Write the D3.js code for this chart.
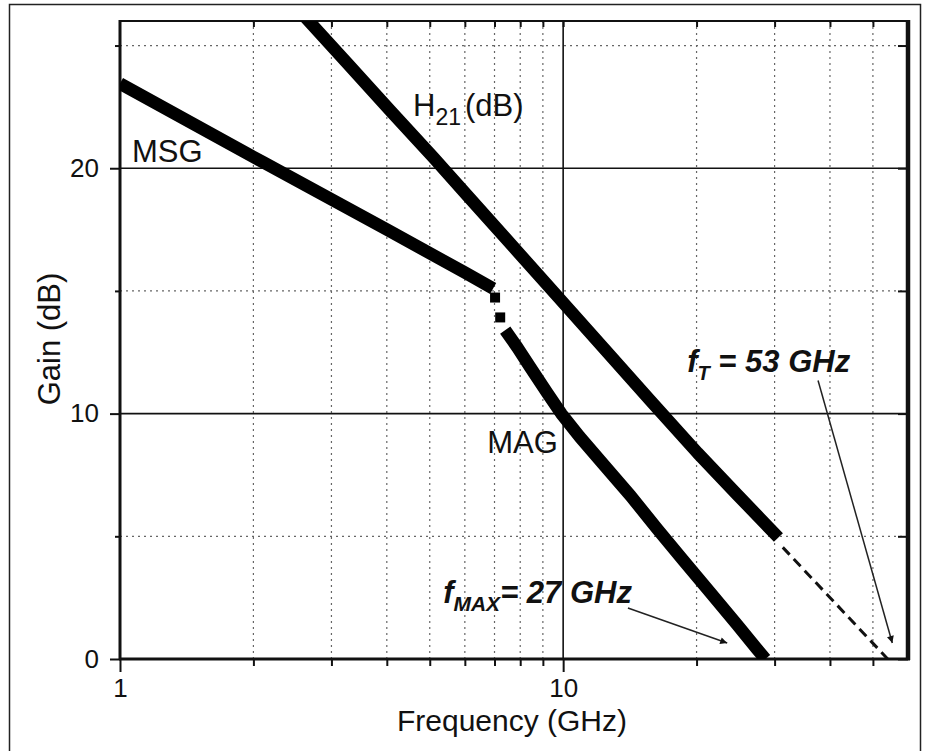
<!DOCTYPE html>
<html>
<head>
<meta charset="utf-8">
<script src="https://cdn.jsdelivr.net/npm/d3@7"></script>
<style>
  body { margin: 0; background: #fff; }
  text { font-family: "Liberation Sans", Arial, sans-serif; fill: #111; }
</style>
</head>
<body>
<div id="chart"></div>
<script>
// Data (frequency in GHz, gain in dB)
//------------------------------------------------------
var h21Freq = [2.45, 2.62, 3.25, 4.07, 5.09, 6.07, 9.69, 12.3, 15.7, 20.1, 24.7, 30.6];
var h21Gain = [26.7, 26.15, 24.3, 22.35, 20.45, 18.9, 14.8, 12.7, 10.55, 8.4, 6.7, 4.95];

var msgFreq = [1, 2.1, 4.0, 6.0, 6.95];
var msgGain = [23.45, 20.25, 17.5, 15.75, 15.1];

var kinkFreq = [7.02, 7.21];
var kinkGain = [14.73, 13.92];

var magFreq = [7.40, 7.88, 8.42, 9.20, 9.9, 10.9, 12.3, 14.2, 16.3, 18.7, 21.5, 24.7, 27.4, 28.6];
var magGain = [13.4, 12.7, 11.9, 10.85, 10.0, 9.05, 7.95, 6.65, 5.3, 4.0, 2.7, 1.4, 0.4, 0];

// dashed extrapolation of H21 down to 0 dB
var extFreq = [31.3, 54];
var extGain = [4.55, 0];

var xMajorTicks = [1, 10];
var xMinorTicks = [2, 3, 4, 5, 6, 7, 8, 9, 20, 30, 40, 50];
var yMajorTicks = [0, 10, 20];
var yMinorTicks = [5, 15, 25];

//------------------------------------------------------
var W = 929, H = 751;
var pLeft = 120, pRight = 908, pTop = 21, pBottom = 659;

var svg = d3.select("#chart").append("svg")
    .attr("width", W).attr("height", H);

var x = d3.scaleLog().domain([1, 60]).range([pLeft, pRight]);
var y = d3.scaleLinear().domain([0, 26]).range([pBottom, pTop]);

function zip(a, b) {
    return a.map(function (v, i) { return [v, b[i]]; });
}

// outer frame of the figure
svg.append("rect")
    .attr("x", 9.5).attr("y", 4.5).attr("width", 911).attr("height", 752)
    .attr("fill", "none").attr("stroke", "#222").attr("stroke-width", 1.5);

var defs = svg.append("defs");
defs.append("clipPath").attr("id", "plotClip")
  .append("rect")
    .attr("x", pLeft).attr("y", pTop)
    .attr("width", pRight - pLeft).attr("height", pBottom - pTop);

defs.append("marker")
    .attr("id", "arrow")
    .attr("viewBox", "0 0 10 10")
    .attr("refX", 10).attr("refY", 5)
    .attr("markerWidth", 10).attr("markerHeight", 7)
    .attr("markerUnits", "userSpaceOnUse")
    .attr("orient", "auto")
  .append("path")
    .attr("d", "M0,0 L10,5 L0,10 Z")
    .attr("fill", "#111");

// grid
var grid = svg.append("g");
grid.selectAll(".vdot").data(xMinorTicks).enter().append("line")
    .attr("x1", function (d) { return x(d); }).attr("x2", function (d) { return x(d); })
    .attr("y1", pTop).attr("y2", pBottom)
    .attr("stroke", "#666").attr("stroke-width", 1.2).attr("stroke-dasharray", "2,4");
grid.selectAll(".hdot").data(yMinorTicks).enter().append("line")
    .attr("x1", pLeft).attr("x2", pRight)
    .attr("y1", function (d) { return y(d); }).attr("y2", function (d) { return y(d); })
    .attr("stroke", "#666").attr("stroke-width", 1.2).attr("stroke-dasharray", "2,4");
grid.selectAll(".vsol").data([10]).enter().append("line")
    .attr("x1", function (d) { return x(d); }).attr("x2", function (d) { return x(d); })
    .attr("y1", pTop).attr("y2", pBottom)
    .attr("stroke", "#111").attr("stroke-width", 1.6);
grid.selectAll(".hsol").data([10, 20]).enter().append("line")
    .attr("x1", pLeft).attr("x2", pRight)
    .attr("y1", function (d) { return y(d); }).attr("y2", function (d) { return y(d); })
    .attr("stroke", "#111").attr("stroke-width", 1.6);

// axes
function styleAxis(g) {
    g.select(".domain").remove();
    g.selectAll(".tick line").attr("stroke", "#111").attr("stroke-width", 2);
    g.selectAll(".tick text").attr("font-size", 26).attr("fill", "#111")
        .style("font-family", "'Liberation Sans', Arial, sans-serif");
}

svg.append("g").attr("transform", "translate(0," + pBottom + ")")
    .call(d3.axisBottom(x).tickValues(xMajorTicks).tickSize(13).tickPadding(7)
        .tickFormat(d3.format("d")))
    .call(styleAxis);
svg.append("g").attr("transform", "translate(0," + pBottom + ")")
    .call(d3.axisBottom(x).tickValues(xMinorTicks).tickSize(7).tickFormat(""))
    .call(styleAxis);
svg.append("g").attr("transform", "translate(0," + pTop + ")")
    .call(d3.axisTop(x).tickValues(xMinorTicks.concat([10])).tickSize(-6).tickFormat(""))
    .call(styleAxis);

svg.append("g").attr("transform", "translate(" + pLeft + ",0)")
    .call(d3.axisLeft(y).tickValues(yMajorTicks).tickSize(10).tickPadding(11)
        .tickFormat(d3.format("d")))
    .call(styleAxis);
svg.append("g").attr("transform", "translate(" + pLeft + ",0)")
    .call(d3.axisLeft(y).tickValues(yMinorTicks).tickSize(5).tickFormat(""))
    .call(styleAxis);
svg.append("g").attr("transform", "translate(" + pRight + ",0)")
    .call(d3.axisRight(y).tickValues(yMajorTicks.concat(yMinorTicks)).tickSize(-10).tickFormat(""))
    .call(styleAxis);

// plot frame: heavier left / bottom / right edges
svg.append("line").attr("x1", pLeft).attr("x2", pRight).attr("y1", pTop).attr("y2", pTop)
    .attr("stroke", "#111").attr("stroke-width", 2);
svg.append("line").attr("x1", pLeft - 1).attr("x2", pRight + 2).attr("y1", pBottom).attr("y2", pBottom)
    .attr("stroke", "#111").attr("stroke-width", 3);
svg.append("line").attr("x1", pLeft).attr("x2", pLeft).attr("y1", pTop - 1).attr("y2", pBottom + 1)
    .attr("stroke", "#111").attr("stroke-width", 3);
svg.append("line").attr("x1", pRight).attr("x2", pRight).attr("y1", pTop - 1).attr("y2", pBottom + 1)
    .attr("stroke", "#111").attr("stroke-width", 4.5);

// curves
var line = d3.line()
    .x(function (d) { return x(d[0]); })
    .y(function (d) { return y(d[1]); });

var curves = svg.append("g").attr("clip-path", "url(#plotClip)");

curves.append("path").datum(zip(extFreq, extGain))
    .attr("d", line).attr("fill", "none")
    .attr("stroke", "#111").attr("stroke-width", 3).attr("stroke-dasharray", "10,6");

[zip(h21Freq, h21Gain), zip(msgFreq, msgGain), zip(magFreq, magGain)].forEach(function (s) {
    curves.append("path").datum(s)
        .attr("d", line).attr("fill", "none")
        .attr("stroke", "#000").attr("stroke-width", 12.5)
        .attr("stroke-linejoin", "round");
});

curves.selectAll(".kink").data(zip(kinkFreq, kinkGain)).enter().append("rect")
    .attr("x", function (d) { return x(d[0]) - 5; })
    .attr("y", function (d) { return y(d[1]) - 5; })
    .attr("width", 10).attr("height", 10).attr("fill", "#000");

// curve labels
svg.append("text").attr("x", x(1.064)).attr("y", y(20.24))
    .attr("font-size", 31).text("MSG");

svg.append("text").attr("x", x(6.74)).attr("y", y(8.41))
    .attr("font-size", 31).text("MAG");

var h21Label = svg.append("text").attr("x", x(4.585)).attr("y", y(22.12)).attr("font-size", 31);
h21Label.append("tspan").text("H");
h21Label.append("tspan").attr("font-size", 23).attr("dy", 9).text("21");
h21Label.append("tspan").attr("dy", -9).attr("dx", 4).text("(dB)");

// fT / fMAX annotations
var ftLabel = svg.append("text").attr("x", x(19.05)).attr("y", y(11.71))
    .attr("font-size", 31).attr("font-weight", "bold").attr("font-style", "italic");
ftLabel.append("tspan").text("f");
ftLabel.append("tspan").attr("font-size", 20).attr("dy", 8).text("T");
ftLabel.append("tspan").attr("dy", -8).text(" = 53 GHz");

var fmaxLabel = svg.append("text").attr("x", x(5.36)).attr("y", y(2.29))
    .attr("font-size", 31).attr("font-weight", "bold").attr("font-style", "italic");
fmaxLabel.append("tspan").text("f");
fmaxLabel.append("tspan").attr("font-size", 21).attr("dy", 8).text("MAX");
fmaxLabel.append("tspan").attr("dy", -8).text("= 27 GHz");

var arrows = [
    { from: [37.6, 11.35], to: [55.3, 0.65] },
    { from: [14.0, 2.08], to: [23.45, 0.65] }
];
svg.selectAll(".arrow").data(arrows).enter().append("line")
    .attr("x1", function (d) { return x(d.from[0]); })
    .attr("y1", function (d) { return y(d.from[1]); })
    .attr("x2", function (d) { return x(d.to[0]); })
    .attr("y2", function (d) { return y(d.to[1]); })
    .attr("stroke", "#222").attr("stroke-width", 1.5)
    .attr("marker-end", "url(#arrow)");

// axis titles
svg.append("text")
    .attr("x", (pLeft + pRight) / 2 - 2).attr("y", 731)
    .attr("text-anchor", "middle").attr("font-size", 30)
    .text("Frequency (GHz)");

svg.append("text")
    .attr("transform", "translate(60," + 339 + ") rotate(-90)")
    .attr("text-anchor", "middle").attr("font-size", 31)
    .text("Gain (dB)");
</script>
</body>
</html>
